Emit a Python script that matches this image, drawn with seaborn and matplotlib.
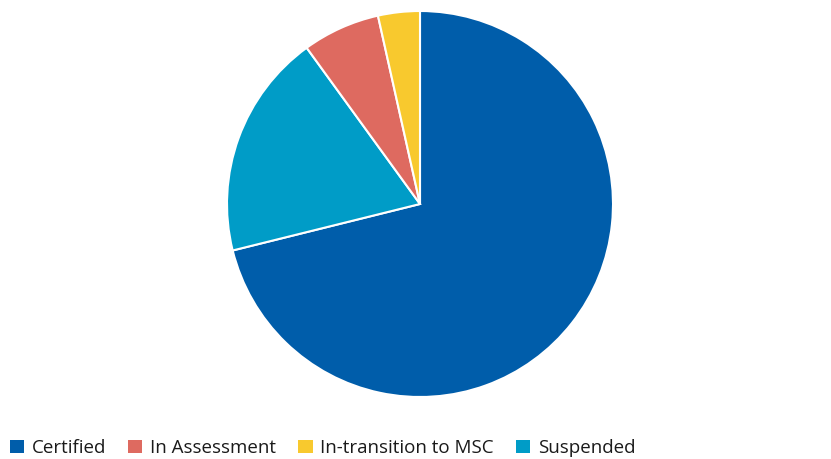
import matplotlib
matplotlib.use('Agg')
import matplotlib.pyplot as plt
import seaborn as sns
from matplotlib.patches import Patch

# Data (share of fisheries, %)
pie_labels = ['Certified', 'Suspended', 'In Assessment', 'In-transition to MSC']
pie_values = [71.2, 18.9, 6.5, 3.5]
legend_order = ['Certified', 'In Assessment', 'In-transition to MSC', 'Suspended']
colors = {
    'Certified': '#005DAA',
    'In Assessment': '#DE6A60',
    'In-transition to MSC': '#F8C92E',
    'Suspended': '#009CC7',
}

sns.set_theme(style='white')
plt.rcParams['font.family'] = ['Open Sans', 'DejaVu Sans']

fig = plt.figure(figsize=(8.31, 4.59), dpi=100)
ax = fig.add_axes([227 / 831, 62 / 459, 386 / 831, 386 / 459])

ax.pie(pie_values, colors=[colors[l] for l in pie_labels], startangle=90,
       counterclock=False, wedgeprops=dict(edgecolor='white', linewidth=1.5))
ax.set_xlim(-1, 1)
ax.set_ylim(-1, 1)
ax.set_aspect('equal')
ax.axis('off')

handles = [Patch(facecolor=colors[l], edgecolor='none', label=l) for l in legend_order]
fig.legend(handles=handles, loc='lower left', bbox_to_anchor=(0.003, -0.012), ncol=4,
           frameon=False, fontsize=13.5, handlelength=0.75, handleheight=0.75,
           handletextpad=0.4, columnspacing=1.2, borderaxespad=0.0,
           labelcolor='#1a1a1a')

fig.savefig('out.png', dpi=100)
